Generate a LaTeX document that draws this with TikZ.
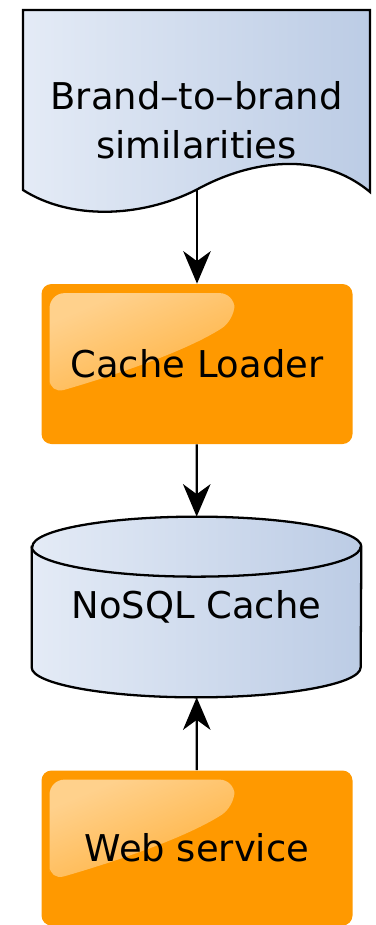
\documentclass[tikz,border=0pt]{standalone}
\usepackage{fontspec}
\setmainfont{DejaVu Sans}
\usetikzlibrary{arrows.meta,fadings,backgrounds}

\definecolor{boxorange}{HTML}{FF9900}
\definecolor{paleblue}{HTML}{E4EBF6}
\definecolor{steelblue}{HTML}{BCCCE5}

\tikzfading[name=glossfade, top color=transparent!45, bottom color=transparent!95]

% glossy highlight in the top left corner of a box
\newcommand{\boxgloss}[1]{%
  \fill[white, path fading=glossfade, fading angle=40, rounded corners=0.3cm]
    ([shift={(0.16,-2.2)}]#1.north west) -- ([shift={(0.16,-0.18)}]#1.north west)
    -- ([shift={(3.86,-0.18)}]#1.north west) -- ([shift={(3.86,-0.72)}]#1.north west)
    .. controls ([shift={(2.8,-1.4)}]#1.north west) and ([shift={(1.2,-1.9)}]#1.north west) .. ([shift={(0.16,-2.2)}]#1.north west) -- cycle;}

\begin{document}
\begin{tikzpicture}[>={Stealth[length=0.65cm, width=0.55cm, inset=0.2cm]},
    font=\fontsize{21}{28}\selectfont,
    process/.style={fill=boxorange, rounded corners=0.2cm, minimum width=6.22cm, minimum height=3.2cm,
      path picture={\boxgloss{path picture bounding box}}},
    outline/.style={draw=black, line width=1.3pt, left color=paleblue, right color=steelblue},
    link/.style={->, line width=1.3pt}]
    \useasboundingbox (0,0) rectangle (7.5,-18.5);

    % Document with wavy bottom edge
    \draw[outline] (0.46,-0.2) -- (7.4,-0.2) -- (7.4,-3.84)
        .. controls (6.4,-3.0) and (5.0,-3.2) .. (3.92,-3.8)
        .. controls (2.8,-4.36) and (1.4,-4.4) .. (0.46,-3.8) -- cycle;
    \node[align=center] (brand) at (3.93,-2.4) {Brand–to–brand\\similarities};
    \coordinate (brandfoot) at (3.94,-3.8);

    % Nodes
    \node[process] (loader) at (3.94,-7.28) {Cache Loader};
    \node[minimum width=6.58cm, minimum height=3.6cm] (cache) at (3.93,-12.14) {NoSQL Cache};
    \node[process, minimum height=3.1cm] (web) at (3.94,-16.96) {Web service};

    % Cylinder behind the cache label
    \begin{scope}[on background layer]
        \draw[outline] ([yshift=-0.6cm]cache.north west) -- ([yshift=0.6cm]cache.south west)
            arc[start angle=180, end angle=360, x radius=3.29cm, y radius=0.6cm]
            -- ([yshift=-0.6cm]cache.north east)
            arc[start angle=0, end angle=180, x radius=3.29cm, y radius=0.6cm] -- cycle;
        \draw[line width=1.3pt] ([yshift=-0.6cm]cache.north west)
            arc[start angle=180, end angle=360, x radius=3.29cm, y radius=0.6cm];
    \end{scope}

    % Data flow
    \draw[link] (brandfoot) -- (loader);
    \draw[link] (loader) -- (cache);
    \draw[link] (web) -- (cache);
\end{tikzpicture}
\end{document}
